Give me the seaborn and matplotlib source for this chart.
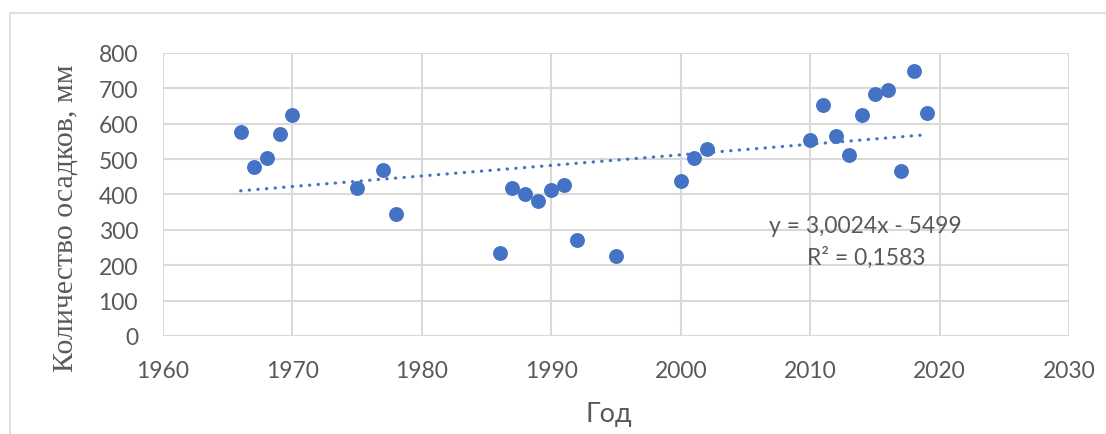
import matplotlib
matplotlib.use("Agg")
import matplotlib.pyplot as plt
import seaborn as sns
import pandas as pd

# precipitation by year
years = [1966, 1967, 1968, 1969, 1970, 1975, 1977, 1978,
         1986, 1987, 1988, 1989, 1990, 1991, 1992, 1995,
         2000, 2001, 2002,
         2010, 2011, 2012, 2013, 2014, 2015, 2016, 2017, 2018, 2019]
precip = [577, 478, 502, 571, 624, 418, 470, 344,
          236, 418, 402, 382, 413, 427, 272, 225,
          438, 503, 528,
          555, 652, 566, 513, 624, 684, 696, 465, 750, 629]
x_ticks = [1960, 1970, 1980, 1990, 2000, 2010, 2020, 2030]
y_ticks = [0, 100, 200, 300, 400, 500, 600, 700, 800]
eq_text = "y = 3,0024x - 5499"
r2_text = "R² = 0,1583"

df = pd.DataFrame({"year": years, "precip": precip})

sns.set_style("white")
plt.rcParams["font.family"] = ["Lato", "DejaVu Sans"]

blue = "#4472C4"
grey = "#595959"

fig = plt.figure(figsize=(11.06, 4.35), dpi=100)
ax = fig.add_axes([0.1474, 0.2253, 0.8191, 0.6506])

sns.regplot(data=df, x="year", y="precip", ax=ax, ci=None, truncate=True,
            scatter_kws=dict(s=115, color=blue, alpha=1, linewidths=0, zorder=3),
            line_kws=dict(color=blue, lw=2.3, dashes=(0.1, 2.6),
                          dash_capstyle="round", zorder=2))

ax.set_xlim(1960, 2030)
ax.set_ylim(0, 800)
ax.set_xticks(x_ticks)
ax.set_yticks(y_ticks)
ax.tick_params(axis="x", length=0, labelsize=16.5, colors=grey, pad=17)
ax.tick_params(axis="y", length=0, labelsize=16.5, colors=grey, pad=18)
ax.grid(True, color="#d9d9d9", lw=1.5)
ax.set_axisbelow(True)
for s in ax.spines.values():
    s.set_visible(False)

ax.set_xlabel("Год", fontsize=19.5, color=grey)
ax.xaxis.set_label_coords(0.492, -0.228)
ax.set_ylabel("Количество осадков, мм", fontsize=21.5, color=grey,
              family=["Liberation Serif", "DejaVu Serif"])
ax.yaxis.set_label_coords(-0.093, 0.42)

ax.text(2014.3, 313, eq_text, fontsize=16.5, color=grey, ha="center", va="center")
ax.text(2014.3, 224, r2_text, fontsize=16.5, color=grey, ha="center", va="center")

# outer chart frame
fig.patches.append(plt.Rectangle((10 / 1106, -0.1), 1.2, 1 - 14 / 435 + 0.1,
                                 transform=fig.transFigure, fill=False,
                                 ec="#d9d9d9", lw=1.2))

fig.savefig("out.png", dpi=100)
